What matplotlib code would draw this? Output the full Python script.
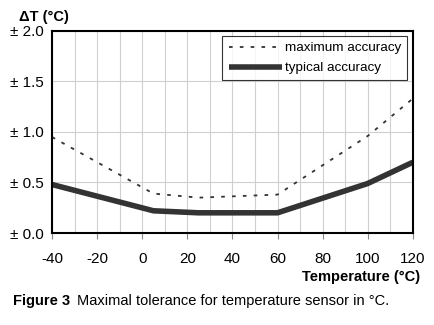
import matplotlib.pyplot as plt
import numpy as np

plt.rcParams['font.family'] = ['Liberation Sans', 'DejaVu Sans']
plt.rcParams['axes.unicode_minus'] = False

temp_max = [-40, 5, 25, 60, 100, 120]
max_acc = [0.95, 0.39, 0.35, 0.38, 0.96, 1.33]
temp_typ = [-40, 5, 25, 60, 100, 120]
typ_acc = [0.48, 0.22, 0.20, 0.20, 0.49, 0.70]
xticks = [-40, -20, 0, 20, 40, 60, 80, 100, 120]
yticks = [0.0, 0.5, 1.0, 1.5, 2.0]
ylabels = ['± 0.0', '± 0.5', '± 1.0', '± 1.5', '± 2.0']

fig = plt.figure(figsize=(4.35, 3.25), dpi=100)
ax = fig.add_axes([0.1195, 0.283, 0.8295, 0.622])

ax.plot(temp_max, max_acc, color='#333333', lw=1.3, ls=(0, (2, 4)), label='maximum accuracy')
ax.plot(temp_typ, typ_acc, color='#333333', lw=4, solid_capstyle='butt', label='typical accuracy')

ax.set_xlim(-40, 120)
ax.set_ylim(0, 2.0)
ax.set_xticks(xticks)
ax.set_xticks(np.arange(-30, 120, 10), minor=True)
ax.set_yticks(yticks)
ax.set_yticklabels(ylabels)
ax.grid(which='both', axis='x', color='#d0d0d0', lw=0.8)
ax.grid(which='major', axis='y', color='#d0d0d0', lw=0.8)
ax.set_axisbelow(True)
ax.tick_params(axis='x', which='major', length=4, color='#888888', labelsize=11, pad=10)
ax.tick_params(axis='x', which='minor', length=0)
ax.tick_params(axis='y', length=0, labelsize=11, pad=6)
for s in ax.spines.values():
    s.set_linewidth(1.5)

leg = ax.legend(loc='upper right', bbox_to_anchor=(0.985, 0.975), fontsize=9.7, frameon=True,
                fancybox=False, edgecolor='black', handlelength=4.0, handletextpad=0.2,
                borderaxespad=0.0, labelspacing=0.55, borderpad=0.45)
leg.get_frame().set_linewidth(0.8)

fig.text(0.043, 0.948, 'ΔT (°C)', fontsize=10.5, fontweight='bold', va='center')
fig.text(0.965, 0.148, 'Temperature (°C)', fontsize=10.5, fontweight='bold', ha='right', va='center')
fig.text(0.03, 0.075, 'Figure 3', fontsize=10.5, fontweight='bold', va='center')
fig.text(0.177, 0.075, 'Maximal tolerance for temperature sensor in °C.', fontsize=10.5, va='center')

fig.savefig('out.png', dpi=100)
